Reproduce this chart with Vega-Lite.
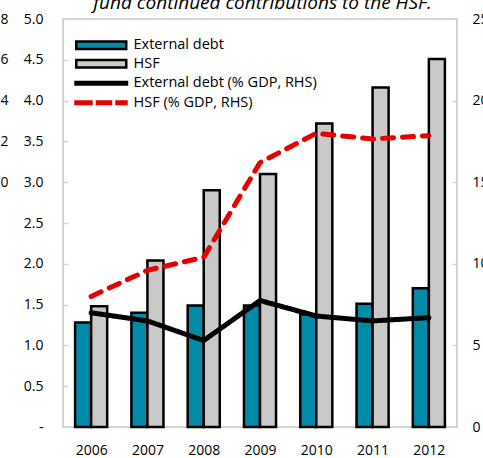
{
  "$schema": "https://vega.github.io/schema/vega-lite/v6.json",
  "autosize": {"type": "none"},
  "width": 394,
  "height": 408,
  "padding": {"left": 63, "top": 19, "right": 26, "bottom": 31},
  "background": "white",
  "config": {
    "font": "Open Sans",
    "view": {"stroke": "#d4d4d4", "strokeWidth": 2},
    "axis": {
      "labelFont": "Open Sans",
      "labelFontSize": 14,
      "labelColor": "black",
      "domain": false,
      "grid": false,
      "tickColor": "#d4d4d4",
      "tickWidth": 1.5,
      "title": null
    },
    "legend": {
      "orient": "none",
      "padding": 0,
      "labelFont": "Open Sans",
      "labelFontSize": 14.5,
      "labelColor": "black",
      "labelLimit": 400,
      "symbolSize": 100,
      "symbolOffset": 20,
      "labelOffset": 25
    }
  },
  "data": {
    "values": [
      {"year": "2006", "series": "External debt", "kind": "bar", "value": 1.28},
      {"year": "2007", "series": "External debt", "kind": "bar", "value": 1.40},
      {"year": "2008", "series": "External debt", "kind": "bar", "value": 1.49},
      {"year": "2009", "series": "External debt", "kind": "bar", "value": 1.49},
      {"year": "2010", "series": "External debt", "kind": "bar", "value": 1.38},
      {"year": "2011", "series": "External debt", "kind": "bar", "value": 1.51},
      {"year": "2012", "series": "External debt", "kind": "bar", "value": 1.70},
      {"year": "2006", "series": "HSF", "kind": "bar", "value": 1.48},
      {"year": "2007", "series": "HSF", "kind": "bar", "value": 2.04},
      {"year": "2008", "series": "HSF", "kind": "bar", "value": 2.90},
      {"year": "2009", "series": "HSF", "kind": "bar", "value": 3.10},
      {"year": "2010", "series": "HSF", "kind": "bar", "value": 3.72},
      {"year": "2011", "series": "HSF", "kind": "bar", "value": 4.16},
      {"year": "2012", "series": "HSF", "kind": "bar", "value": 4.51},
      {"year": "2006", "series": "External debt (% GDP, RHS)", "kind": "line", "value": 7.0},
      {"year": "2007", "series": "External debt (% GDP, RHS)", "kind": "line", "value": 6.5},
      {"year": "2008", "series": "External debt (% GDP, RHS)", "kind": "line", "value": 5.3},
      {"year": "2009", "series": "External debt (% GDP, RHS)", "kind": "line", "value": 7.75},
      {"year": "2010", "series": "External debt (% GDP, RHS)", "kind": "line", "value": 6.8},
      {"year": "2011", "series": "External debt (% GDP, RHS)", "kind": "line", "value": 6.5},
      {"year": "2012", "series": "External debt (% GDP, RHS)", "kind": "line", "value": 6.7},
      {"year": "2006", "series": "HSF (% GDP, RHS)", "kind": "line", "value": 8.0},
      {"year": "2007", "series": "HSF (% GDP, RHS)", "kind": "line", "value": 9.6},
      {"year": "2008", "series": "HSF (% GDP, RHS)", "kind": "line", "value": 10.4},
      {"year": "2009", "series": "HSF (% GDP, RHS)", "kind": "line", "value": 16.2},
      {"year": "2010", "series": "HSF (% GDP, RHS)", "kind": "line", "value": 18.0},
      {"year": "2011", "series": "HSF (% GDP, RHS)", "kind": "line", "value": 17.65},
      {"year": "2012", "series": "HSF (% GDP, RHS)", "kind": "line", "value": 17.85}
    ]
  },
  "encoding": {
    "x": {
      "field": "year",
      "type": "nominal",
      "scale": {"paddingInner": 0.43, "paddingOuter": 0.215},
      "axis": {
        "labelAngle": 0,
        "labelPadding": 21,
        "tickSize": -5,
        "tickBand": "extent",
        "ticks": true
      }
    }
  },
  "layer": [
    {
      "transform": [{"filter": "datum.kind === 'bar'"}],
      "mark": {"type": "bar", "stroke": "black", "strokeWidth": 2.5, "opacity": 1},
      "encoding": {
        "xOffset": {"field": "series", "type": "nominal", "sort": ["External debt", "HSF"], "scale": {"paddingInner": 0, "paddingOuter": 0}},
        "y": {
          "field": "value",
          "type": "quantitative",
          "scale": {"domain": [0, 5], "nice": false, "zero": true},
          "axis": {
            "orient": "left",
            "values": [0, 0.5, 1, 1.5, 2, 2.5, 3, 3.5, 4, 4.5, 5],
            "labelExpr": "datum.value == 0 ? '-' : format(datum.value, '.1f')",
            "tickSize": -5,
            "labelPadding": 25
          }
        },
        "fill": {
          "field": "series",
          "type": "nominal",
          "scale": {"domain": ["External debt", "HSF"], "range": ["#008BA8", "#c9c9c9"]},
          "legend": {
            "title": null,
            "legendX": 11,
            "legendY": 19,
            "rowPadding": 0.5,
            "symbolType": "M-5,-0.75H5V0.75H-5Z",
            "symbolStrokeColor": "black",
            "symbolStrokeWidth": 2.5,
            "symbolOpacity": 1
          }
        }
      }
    },
    {
      "transform": [{"filter": "datum.kind === 'line'"}],
      "mark": {"type": "line", "strokeWidth": 5, "strokeCap": "round", "strokeJoin": "round"},
      "encoding": {
        "y": {
          "field": "value",
          "type": "quantitative",
          "scale": {"domain": [0, 25], "nice": false},
          "axis": {
            "orient": "right",
            "values": [0, 5, 10, 15, 20, 25],
            "tickSize": -5,
            "labelPadding": 20
          }
        },
        "stroke": {
          "field": "series",
          "type": "nominal",
          "scale": {"domain": ["External debt (% GDP, RHS)", "HSF (% GDP, RHS)"], "range": ["#000000", "#e60000"]},
          "legend": {
            "title": null,
            "legendX": 11,
            "legendY": 57,
            "rowPadding": 4.5,
            "symbolType": "M-5.4,-0.5H5.4V0.5H-5.4Z",
            "symbolStrokeWidth": 0,
            "symbolOpacity": 1,
            "encode": {
              "symbols": {
                "update": {
                  "shape": {"signal": "datum.value == 'HSF (% GDP, RHS)' ? 'M-5.4,-0.5H-1.7V0.5H-5.4Z M-1.1,-0.5H2.2V0.5H-1.1Z M2.8,-0.5H5.3V0.5H2.8Z' : 'M-5.4,-0.5H5.4V0.5H-5.4Z'"},
                  "fill": {"signal": "datum.value == 'HSF (% GDP, RHS)' ? '#e60000' : '#000000'"},
                  "strokeWidth": {"value": 0}
                }
              }
            }
          }
        },
        "strokeDash": {
          "field": "series",
          "type": "nominal",
          "scale": {"domain": ["External debt (% GDP, RHS)", "HSF (% GDP, RHS)"], "range": [[1, 0], [11, 9]]},
          "legend": null
        }
      }
    },
    {
      "transform": [{"filter": "datum.kind === 'bar'"}],
      "mark": {"type": "point", "opacity": 0, "clip": true},
      "encoding": {
        "y": {
          "field": "value",
          "type": "quantitative",
          "scale": {"domain": [-12, 8], "nice": false, "zero": false},
          "axis": {
            "orient": "left",
            "offset": 45,
            "values": [0, 2, 4, 6, 8],
            "ticks": false,
            "labelPadding": 10,
            "title": "fund continued contributions to the HSF.",
            "titleAngle": 0,
            "titleFont": "Open Sans",
            "titleFontStyle": "italic",
            "titleFontWeight": "normal",
            "titleFontSize": 19,
            "titleColor": "black",
            "titleAlign": "center",
            "titleBaseline": "alphabetic",
            "titleX": 244,
            "titleY": -11
          }
        }
      }
    }
  ],
  "resolve": {"scale": {"y": "independent"}, "axis": {"y": "independent"}}
}
